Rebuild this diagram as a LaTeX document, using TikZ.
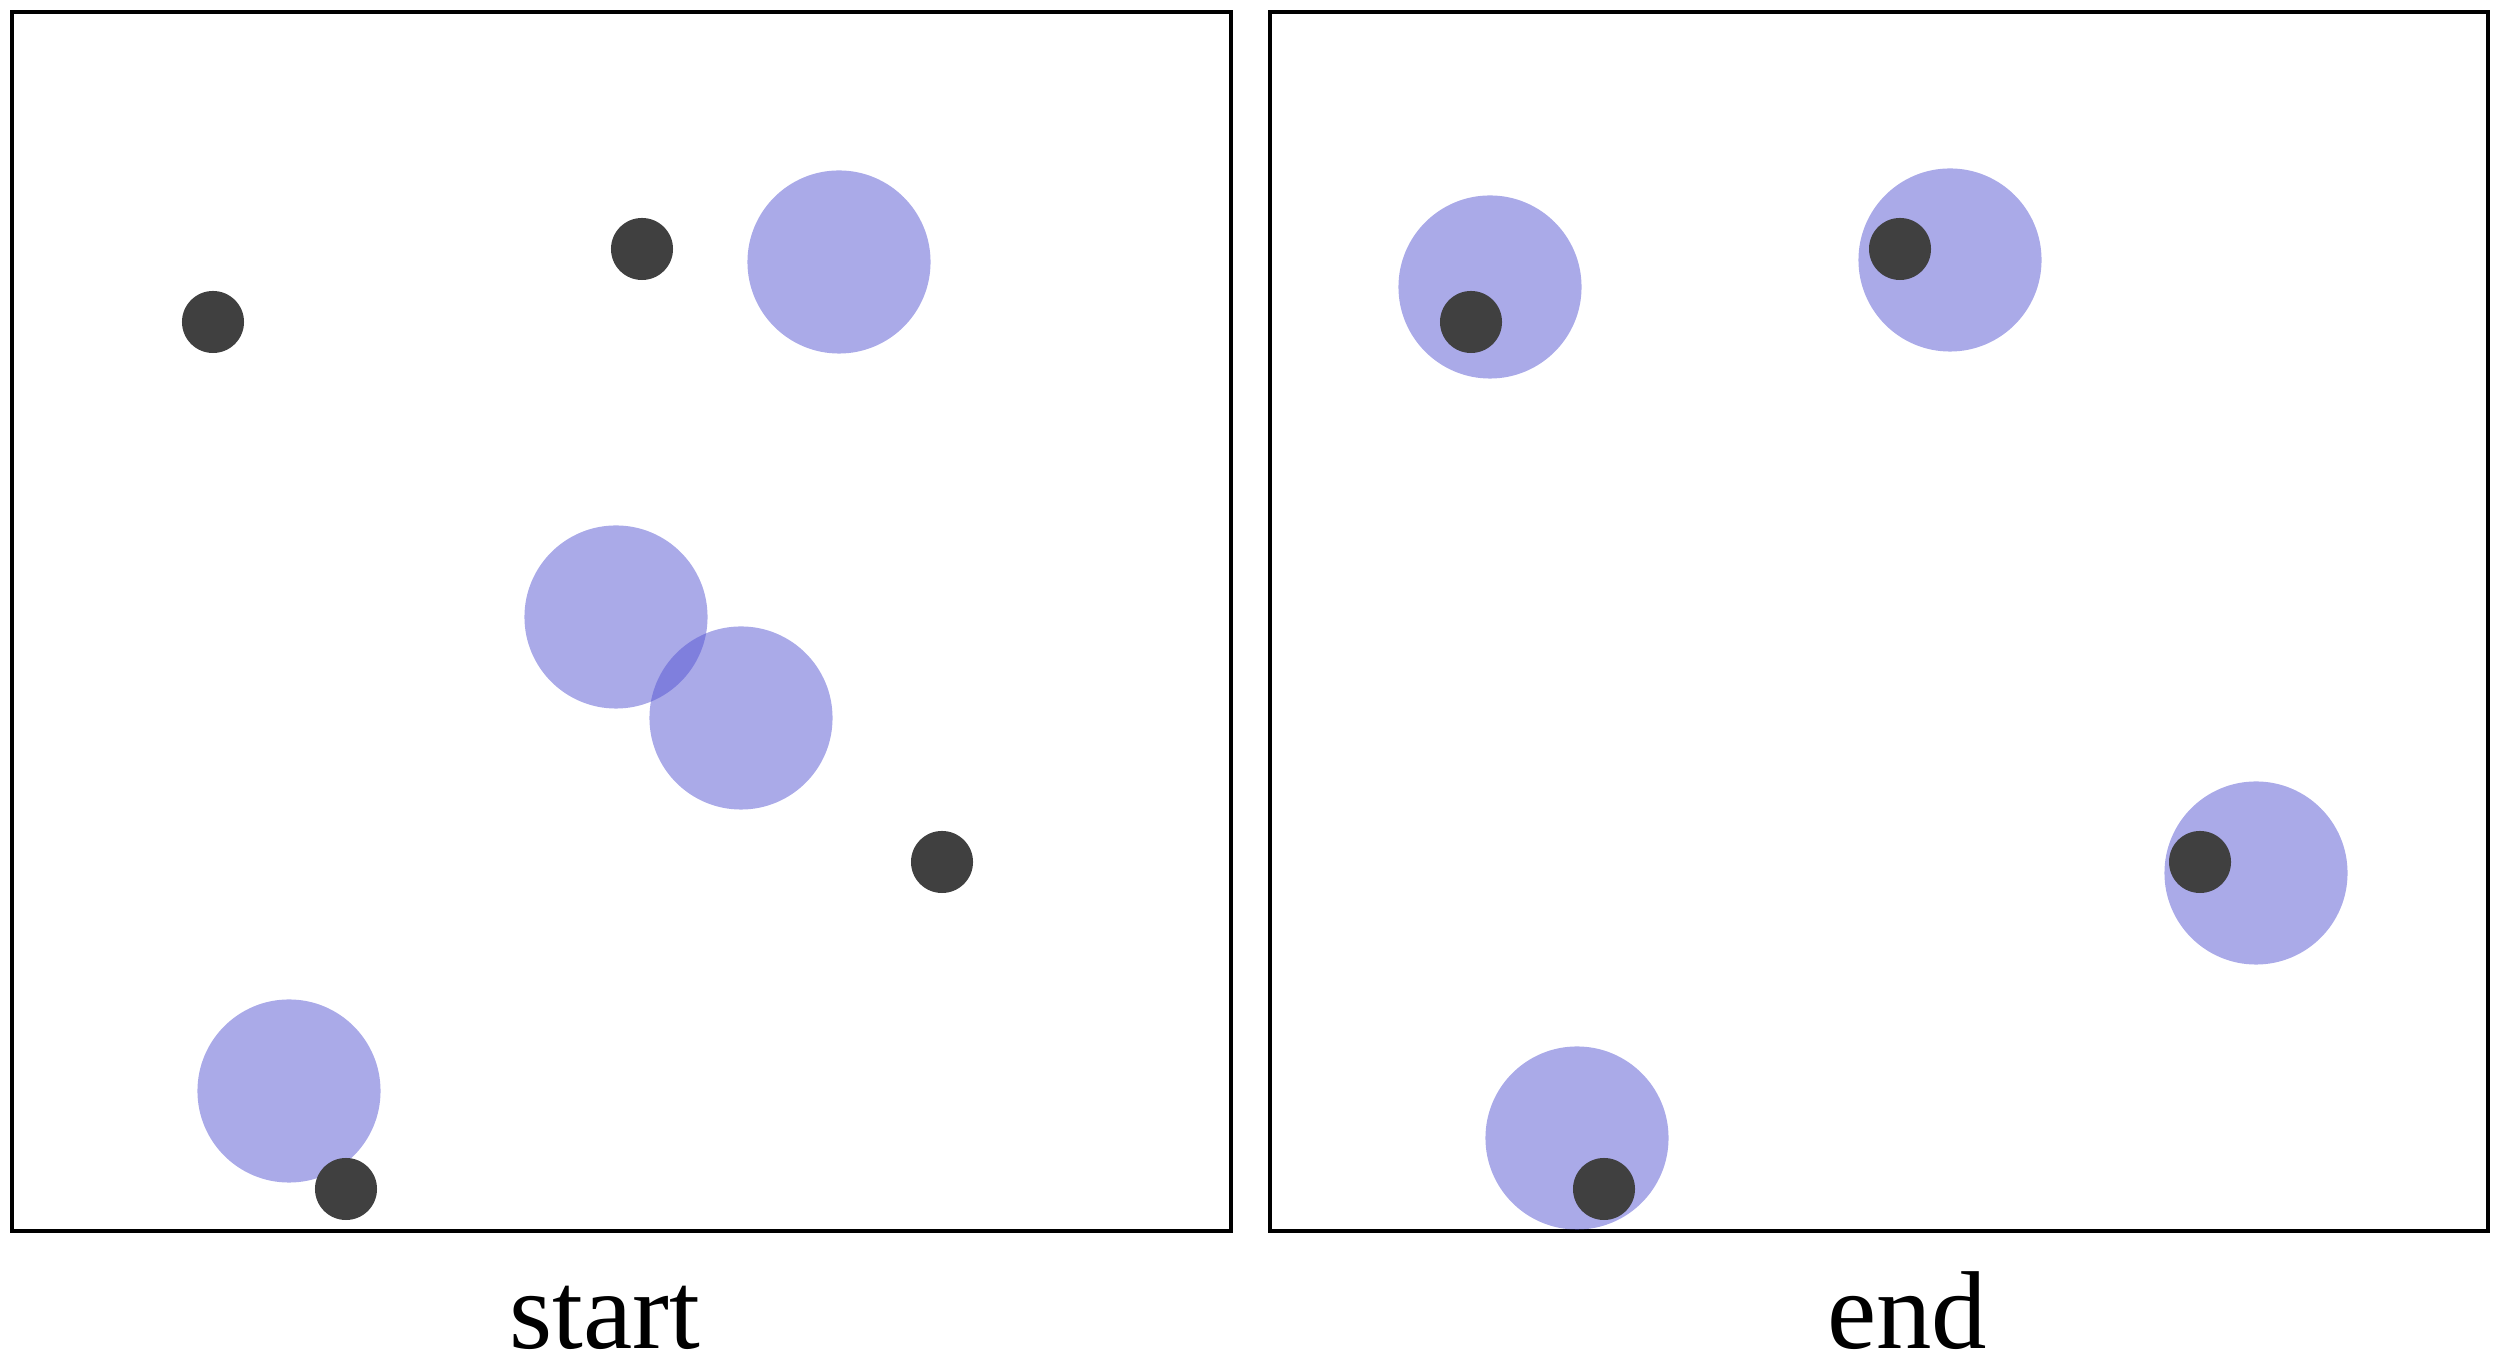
\documentclass[tikz,border=0pt]{standalone}
\usepackage{fontspec}
\setmainfont{Liberation Serif}
\definecolor{bluish}{RGB}{85,85,210}
\definecolor{dotgray}{RGB}{64,64,64}
\tikzset{
  panel/.style={draw=black, line width=1.15pt},
  bigc/.style={circle, fill=bluish, fill opacity=0.5, minimum size=1.83cm, inner sep=0pt},
  dotc/.style={circle, fill=dotgray, minimum size=0.62cm, inner sep=0pt},
  caption/.style={font=\fontsize{31.5}{36}\selectfont, anchor=base, inner sep=0pt}
}
\begin{document}
\begin{tikzpicture}[x=0.01cm, y=-0.01cm]
\useasboundingbox (0,0) rectangle (2502,1368);
% panels
\draw[panel] (12,12) rectangle (1231,1231);
\draw[panel] (1270,12) rectangle (2488,1231);
% left panel: circles
\node[bigc] (L1) at (839,262) {};
\node[bigc] (L2) at (616,617) {};
\node[bigc] (L3) at (741,718) {};
\node[bigc] (L4) at (289,1091) {};
% left panel: points
\node[dotc] (p1) at (213,322) {};
\node[dotc] (p2) at (642,249) {};
\node[dotc] (p3) at (942,862) {};
\node[dotc] (p4) at (346,1189) {};
% right panel: circles
\node[bigc] (R1) at (1490,287) {};
\node[bigc] (R2) at (1950,260) {};
\node[bigc] (R3) at (2256,873) {};
\node[bigc] (R4) at (1577,1138) {};
% right panel: points
\node[dotc] (q1) at (1471,322) {};
\node[dotc] (q2) at (1900,249) {};
\node[dotc] (q3) at (2200,862) {};
\node[dotc] (q4) at (1604,1189) {};
% captions
\node[caption] (start) at (605,1349) {start};
\node[caption] (end) at (1907,1349) {end};
\end{tikzpicture}
\end{document}
